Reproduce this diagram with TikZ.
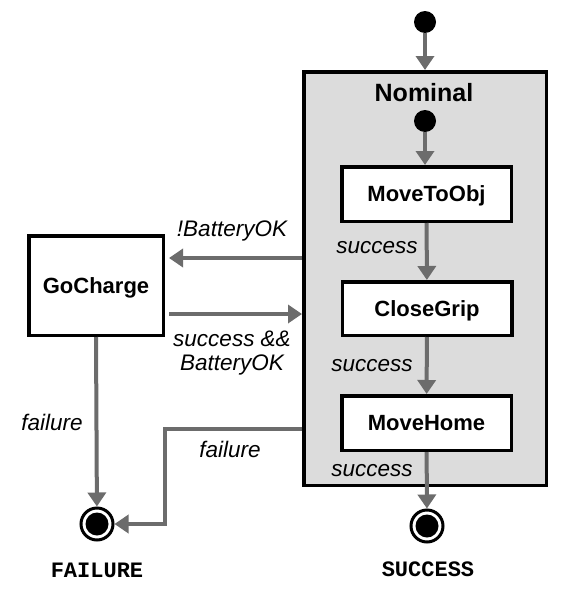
\documentclass[tikz,border=0pt]{standalone}
\usepackage{fontspec}
\setmainfont{Liberation Sans}
\setmonofont{Liberation Mono}
\usepackage{tikz}
\usetikzlibrary{arrows.meta}
\definecolor{nominalgray}{RGB}{220,220,220}
\definecolor{edgegray}{RGB}{108,108,108}
\tikzset{
	statebox/.style={draw, line width=3.5pt, fill=white, inner sep=0pt, text height=15.8pt, text depth=0pt, font=\fontsize{22}{26}\selectfont\bfseries},
	initdot/.style={circle, fill=black, inner sep=0pt, minimum size=22pt},
	finaldot/.style={circle, draw, line width=3pt, fill=white, inner sep=0pt, minimum size=32pt,
		path picture={\fill[black] (path picture bounding box.center) circle (11.5pt);}},
	trans/.style={draw=edgegray, line width=4pt, -{Triangle[length=14pt,width=18pt]}},
	guard/.style={font=\fontsize{22.5}{24}\selectfont\itshape, inner sep=0pt},
	endlabel/.style={font=\fontsize{22}{24}\selectfont\ttfamily\bfseries, inner sep=0pt},
}

\begin{document}
\begin{tikzpicture}[x=1pt, y=-1pt]
			\useasboundingbox (0,0) rectangle (572,589);
			\node[initdot] (start) at (425,22) {};
			\node[statebox, fill=nominalgray, minimum width=242.5pt, minimum height=413.5pt] (nominal) at (425,278.5) {};
			\node[font=\fontsize{25}{28}\selectfont\bfseries, inner sep=0pt] (nominaltitle) at (424,92.5) {Nominal};
			\node[initdot] (nominalstart) at (425,121) {};
			\node[statebox, minimum width=169.5pt, minimum height=54.5pt] (movetoobj) at (426.5,194) {MoveToObj};
			\node[statebox, minimum width=169.5pt, minimum height=53.5pt] (closegrip) at (427,308.5) {CloseGrip};
			\node[statebox, minimum width=169.5pt, minimum height=54.5pt] (movehome) at (426.5,423) {MoveHome};
			\node[statebox, minimum width=134.5pt, minimum height=99.5pt] (gocharge) at (96,285.5) {GoCharge};
			\node[finaldot] (success) at (427,526) {};
			\node[finaldot] (failure) at (97,524) {};
			\node[endlabel] (successlabel) at (428,569) {SUCCESS};
			\node[endlabel] (failurelabel) at (97,570) {FAILURE};
			\coordinate (lowbatt) at (0,258);
			\coordinate (charged) at (0,314);
			\coordinate (detour) at (165,429);
			\draw[trans] (start) -- (start |- nominal.north);
			\draw[trans] (nominalstart) -- (nominalstart |- movetoobj.north);
			\draw[trans] (movetoobj) -- (closegrip);
			\draw[trans] (closegrip) -- (movehome);
			\draw[trans] (movehome) -- (success);
			\draw[trans, shorten >=4pt] (nominal.west |- lowbatt) -- (gocharge.east |- lowbatt);
			\draw[trans, shorten <=4pt] (gocharge.east |- charged) -- (nominal.west |- charged);
			\draw[trans] (gocharge.south) -- (failure);
			\draw[trans] (detour -| nominal.west) -- (detour) |- (failure.east);
			\node[guard] (lowbattlabel) at (232,231) {!BatteryOK};
			\node[guard, align=center] (chargedlabel) at (232,353) {success \&\&\\BatteryOK};
			\node[guard] (successone) at (377,248) {success};
			\node[guard] (successtwo) at (372,366) {success};
			\node[guard] (successthree) at (372,470.5) {success};
			\node[guard] (failureone) at (52,422) {failure};
			\node[guard] (failuretwo) at (230,449) {failure};
		\end{tikzpicture}
\end{document}
